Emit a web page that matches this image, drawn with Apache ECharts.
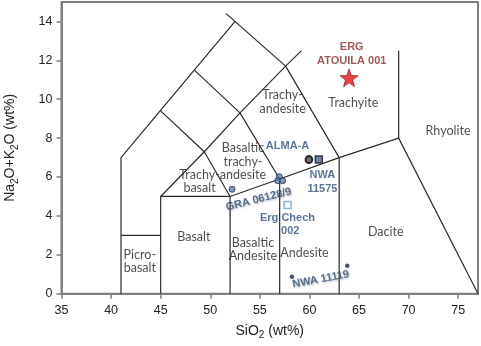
<!DOCTYPE html>
<html>
<head>
<meta charset="utf-8">
<script src="https://cdn.jsdelivr.net/npm/echarts@6/dist/echarts.min.js"></script>
<style>
  html, body { margin: 0; padding: 0; background: #fff; }
  #chart { width: 481px; height: 346px; }
</style>
</head>
<body>
<div id="chart"></div>
<script>
// Axis ticks
const xTicks = [35, 40, 45, 50, 55, 60, 65, 70, 75];
const yTicks = [0, 2, 4, 6, 8, 10, 12, 14];

// TAS field boundaries (SiO2, Na2O+K2O), one polyline per entry
const boundaries = [
  [[41, 0], [41, 7], [52.5, 14]],
  [[41, 3], [45, 3]],
  [[45, 0], [45, 5], [52, 5]],
  [[52, 0], [52, 5], [57, 5.9], [63, 7], [69, 8], [77, 0]],
  [[57, 0], [57, 5.9]],
  [[63, 0], [63, 7]],
  [[45, 5], [49.4, 7.3], [53, 9.3], [57.6, 11.7], [59.2, 12.5]],
  [[52, 5], [49.4, 7.3], [45, 9.4]],
  [[57, 5.9], [53, 9.3], [48.4, 11.5]],
  [[63, 7], [57.6, 11.7], [51.6, 14.4]],
  [[69, 8], [69, 12.5]]
];

// Field names and their anchor positions
const fieldNames = ['Picro-\nbasalt', 'Basalt', 'Basaltic\nAndesite', 'Trachy-\nbasalt',
  'Basaltic\ntrachy-\nandesite', 'Trachy-\nandesite', 'Trachyite', 'Rhyolite', 'Andesite', 'Dacite'];
const fieldPos = [[42.9, 1.65], [48.35, 2.93], [54.3, 2.28], [48.92, 5.76],
  [53.3, 6.79], [57.3, 9.87], [64.43, 9.79], [73.98, 8.38], [59.5, 2.11], [67.7, 3.16]];

// Meteorite compositions
const graPoints = [[52.2, 5.37], [56.96, 6.02], [56.8, 5.81], [57.3, 5.81]];
const almaA = [[59.95, 6.9]];
const nwa11575 = [[60.95, 6.9]];
const ergChech = [[57.8, 4.56]];
const nwa11119 = [[58.24, 0.87], [63.82, 1.44]];
const ergAtouila = [[64.0, 11.1]];

// Sample names: text, anchor, rotation
const sampleNames = ['ERG\nATOUILA 001', 'ALMA-A', 'NWA\n11575', 'GRA 06128/9', 'Erg Chech', '002', 'NWA 11119'];
const sampleNamePos = [[64.27, 12.32], [57.79, 7.59], [61.31, 5.76], [54.88, 4.85], [57.79, 3.91], [58.07, 3.24], [61.15, 0.74]];
const sampleNameRot = [0, 0, 0, 14, 0, 0, 10.5];

const chart = echarts.init(document.getElementById('chart'));

const lineColor = '#2b2b2b';
const blue = '#34507a';
const axisGrey = '#808080';

const boundarySeries = boundaries.map(function (pts) {
  return {
    type: 'line', data: pts, symbol: 'none', silent: true, animation: false,
    lineStyle: { color: lineColor, width: 1.2 }, z: 2
  };
});

const fieldLabelSeries = {
  type: 'scatter', symbolSize: 0, silent: true, animation: false, z: 3,
  data: fieldNames.map(function (n, i) {
    return { value: fieldPos[i], name: n };
  }),
  label: {
    show: true, position: 'inside', formatter: '{b}',
    fontFamily: 'Lato', fontSize: 12.5, color: '#1e1e1e', lineHeight: 13.5, align: 'center'
  }
};

const sampleLabelSeries = {
  type: 'scatter', symbolSize: 0, silent: true, animation: false, z: 6,
  data: sampleNames.map(function (n, i) {
    const shadowed = sampleNameRot[i] !== 0;
    return {
      value: sampleNamePos[i], name: n,
      label: {
        rotate: sampleNameRot[i],
        color: i === 0 ? '#8a2e2e' : blue,
        textShadowColor: shadowed ? 'rgba(60,60,60,0.45)' : 'transparent',
        textShadowBlur: shadowed ? 2 : 0,
        textShadowOffsetX: shadowed ? 1 : 0,
        textShadowOffsetY: shadowed ? 1 : 0
      }
    };
  }),
  label: {
    show: true, position: 'inside', formatter: '{b}',
    fontFamily: 'Liberation Sans', fontWeight: 'bold', fontSize: 11, lineHeight: 14, align: 'center'
  }
};

const nameRich = {
  a: { fontFamily: 'Liberation Sans', fontSize: 14, color: '#222', lineHeight: 18 },
  s: { fontFamily: 'Liberation Sans', fontSize: 10, color: '#222', lineHeight: 18, padding: [9, 0, 0, 0] }
};

const option = {
  animation: false,
  grid: {
    left: 61.5, right: 3, top: 2, bottom: 52.3, outerBoundsMode: 'none', containLabel: false,
    show: true, borderColor: axisGrey, borderWidth: 2, backgroundColor: 'transparent'
  },
  xAxis: {
    type: 'value', min: 35, max: 77, interval: 5,
    name: '{a|SiO}{s|2}{a| (wt%)}', nameLocation: 'middle', nameGap: 28,
    nameTextStyle: { rich: nameRich },
    splitLine: { show: false },
    axisLine: { onZero: false, lineStyle: { color: axisGrey, width: 2 } },
    axisTick: { show: true, length: 5, customValues: xTicks, lineStyle: { color: axisGrey, width: 1.5 } },
    axisLabel: { customValues: xTicks, margin: 10, fontFamily: 'Liberation Sans', fontSize: 12.5, color: '#222' }
  },
  yAxis: {
    type: 'value', min: 0, max: 15, interval: 1,
    name: '{a|Na}{s|2}{a|O+K}{s|2}{a|O (wt%)}', nameLocation: 'middle', nameGap: 42,
    nameTextStyle: { rich: nameRich },
    splitLine: { show: false },
    axisLine: { onZero: false, lineStyle: { color: axisGrey, width: 2 } },
    axisTick: { show: true, length: 5, customValues: yTicks, lineStyle: { color: axisGrey, width: 1.5 } },
    axisLabel: { customValues: yTicks, margin: 9, fontFamily: 'Liberation Sans', fontSize: 12.5, color: '#222' }
  },
  series: boundarySeries.concat([
    fieldLabelSeries,
    {
      name: 'GRA 06128/9', type: 'scatter', data: graPoints, symbol: 'circle', symbolSize: 6, z: 5,
      itemStyle: { color: '#5f7fa8', borderColor: '#1e2d4a', borderWidth: 1 }
    },
    {
      name: 'ALMA-A', type: 'scatter', data: almaA, symbol: 'circle', symbolSize: 7, z: 5,
      itemStyle: { color: '#4a4a4a', borderColor: '#000', borderWidth: 1.8 }
    },
    {
      name: 'NWA 11575', type: 'scatter', data: nwa11575, symbol: 'rect', symbolSize: 7, z: 5,
      itemStyle: { color: '#50698e', borderColor: '#161c28', borderWidth: 1.5 }
    },
    {
      name: 'Erg Chech 002', type: 'scatter', data: ergChech, symbol: 'rect', symbolSize: 7, z: 5,
      itemStyle: { color: '#ffffff', borderColor: '#6aa6d6', borderWidth: 1.6 }
    },
    {
      name: 'NWA 11119', type: 'scatter', data: nwa11119, symbol: 'circle', symbolSize: 4.5, z: 5,
      itemStyle: { color: '#1b2945' }
    },
    {
      name: 'ERG ATOUILA 001', type: 'scatter', data: ergAtouila, symbol: 'path://M0,-10 L2.35,-3.24 L9.51,-3.09 L3.8,1.24 L5.88,8.09 L0,4 L-5.88,8.09 L-3.8,1.24 L-9.51,-3.09 L-2.35,-3.24 Z',
      symbolSize: 18, z: 5,
      itemStyle: { color: '#e0191c', borderColor: '#7a1010', borderWidth: 0.8 }
    },
    sampleLabelSeries
  ])
};

chart.setOption(option);
</script>
</body>
</html>
